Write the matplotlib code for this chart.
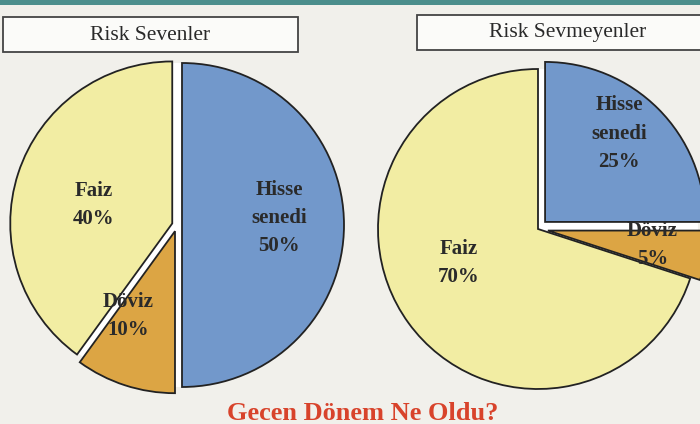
import matplotlib.pyplot as plt
from matplotlib.patches import Rectangle, Circle
import numpy as np

plt.rcParams['font.family'] = ['Liberation Serif', 'DejaVu Serif']

W, H = 700, 424

# data
categories = ["Hisse\nsenedi", "Döviz", "Faiz"]
sevenler = [50, 10, 40]
sevmeyenler = [25, 5, 70]
titles = ["Risk Sevenler", "Risk Sevmeyenler"]
footer = "Gecen Dönem Ne Oldu?"

colors = ["#7298cb", "#dca544", "#f2eda3"]
paper = "#f1f0eb"
ink = "#2a2a2a"


def draw_pie(ax, values, center, radius, explode, label_dist, label_shift):
    ax.add_patch(Circle(center, radius, facecolor="white", edgecolor="none", zorder=0))
    # explode is in data units (pixels here)
    wedges, _ = ax.pie(values, colors=colors, startangle=90, counterclock=False,
                       center=center, radius=radius, explode=explode, frame=True,
                       wedgeprops=dict(edgecolor="#222222", linewidth=1.3))
    for w, name, v, d, da in zip(wedges, categories, values, label_dist, label_shift):
        ang = np.deg2rad((w.theta1 + w.theta2) / 2 + da)
        cx, cy = w.center
        ax.text(cx + d * radius * np.cos(ang), cy + d * radius * np.sin(ang),
                f"{name}\n{v}%", ha="center", va="center", fontsize=15,
                fontweight="bold", color=ink, linespacing=1.55, zorder=5)


fig = plt.figure(figsize=(W / 100, H / 100), dpi=100, facecolor=paper)
ax = fig.add_axes([0, 0, 1, 1])
ax.set_facecolor(paper)

draw_pie(ax, sevenler, (177, 199), 162, [5, 6.5, 5],
         [0.6, 0.6, 0.5], [4, -11, 5])
draw_pie(ax, sevmeyenler, (538, 195), 160, [10, 10, 0],
         [0.72, 0.66, 0.54], [5, 1, -13])

# title boxes
ax.add_patch(Rectangle((3, 372), 295, 35, facecolor="#fbfbf9", edgecolor="#444444", lw=1.3, zorder=3))
ax.add_patch(Rectangle((417, 374), 300, 35, facecolor="#fbfbf9", edgecolor="#444444", lw=1.3, zorder=3))
ax.text(150, 389, titles[0], ha="center", va="center", fontsize=15.5, color=ink, zorder=4)
ax.text(568, 391, titles[1], ha="center", va="center", fontsize=15.5, color=ink, zorder=4)

# teal band on top
ax.add_patch(Rectangle((0, 419), W, 6, facecolor="#4b8e8c", edgecolor="none", zorder=3))

ax.text(363, 4, footer, ha="center", va="baseline", fontsize=19, fontweight="bold",
        color="#d8432b", zorder=4)

ax.set_xlim(0, W)
ax.set_ylim(0, H)
ax.set_aspect("auto")
ax.axis("off")

fig.savefig("out.png", dpi=100, facecolor=paper)
